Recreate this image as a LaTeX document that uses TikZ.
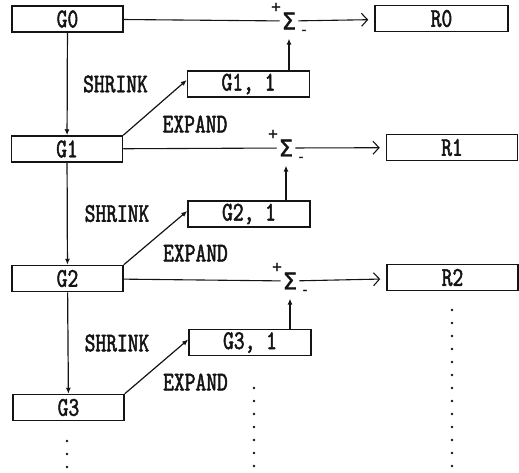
\documentclass[tikz,border=0pt]{standalone}
\usepackage{fontspec}
\newfontfamily\diagfont{lmmono10-regular}[Extension=.otf,FakeStretch=0.76,FakeBold=1.8]
\newfontfamily\sumfont{DejaVu Sans}[FakeBold=1.2]
\usetikzlibrary{arrows.meta,positioning,calc}
\definecolor{ink}{HTML}{141414}
\tikzset{
  >=Latex,
  every node/.style={font=\diagfont\fontsize{27}{27}\selectfont,text=ink},
  gbox/.style={draw=ink,line width=1.5pt,minimum width=111pt,minimum height=26pt,inner sep=0pt},
  subbox/.style={gbox,minimum width=122pt},
  rbox/.style={gbox,minimum width=131pt},
  sumnode/.style={font=\sumfont\fontsize{23}{23}\selectfont,inner xsep=2pt,inner ysep=9pt},
  pmsign/.style={font=\sumfont\fontsize{13}{13}\selectfont,inner sep=0pt},
  txtlabel/.style={inner sep=0pt},
  flow/.style={->,line width=1.2pt,draw=ink,>={Latex[length=6pt,width=5pt]}},
  feed/.style={line width=1.1pt,draw=ink},
  outarr/.style={-{Straight Barb[length=6pt,width=13pt]},line width=1.1pt,draw=ink,shorten >=6pt},
  dotcol/.style={fill=ink}
}
\begin{document}
\begin{tikzpicture}[x=1pt,y=-1pt]
  \useasboundingbox (0,0) rectangle (519,472);

  % pyramid levels
  \node[gbox] (g0) at (67.5,19) {G0};
  \node[gbox] (g1) at (67,149) {G1};
  \node[gbox] (g2) at (67.5,278.5) {G2};
  \node[gbox] (g3) at (68.5,407.5) {G3};

  % expanded levels
  \node[subbox] (g11) at (248.5,84) {G1, 1};
  \node[subbox] (g21) at (249,214) {G2, 1};
  \node[subbox] (g31) at (250,342.5) {G3, 1};

  % differences
  \node[sumnode] (s0) at (289,21) {Σ};
  \node[sumnode] (s1) at (286,148) {Σ};
  \node[sumnode] (s2) at (290,281) {Σ};
  \node[pmsign] (s0p) at ([shift={(-13,-14)}]s0.center) {+};
  \node[pmsign] (s0m) at ([shift={(15,11)}]s0.center) {-};
  \node[pmsign] (s1p) at ([shift={(-13,-14)}]s1.center) {+};
  \node[pmsign] (s1m) at ([shift={(15,11)}]s1.center) {-};
  \node[pmsign] (s2p) at ([shift={(-13,-14)}]s2.center) {+};
  \node[pmsign] (s2m) at ([shift={(15,11)}]s2.center) {-};

  % residuals
  \node[rbox,minimum width=133pt] (r0) at (441.5,18.5) {R0};
  \node[rbox] (r1) at (452,147.5) {R1};
  \node[rbox] (r2) at (452.5,277.5) {R2};

  % step labels
  \node[txtlabel] (sh1) at (115.5,84) {SHRINK};
  \node[txtlabel] (sh2) at (117,213.5) {SHRINK};
  \node[txtlabel] (sh3) at (117,343) {SHRINK};
  \node[txtlabel] (ex1) at (195,124) {EXPAND};
  \node[txtlabel] (ex2) at (195.5,253) {EXPAND};
  \node[txtlabel] (ex3) at (195.5,382) {EXPAND};

  \draw[flow] (g0)--(g1);
  \draw[flow] (g1)--(g2);
  \draw[flow] (g2)--(g3);
  \draw[flow] (g1.north east)--([yshift=4pt]g11.west);
  \draw[flow] (g2.north east)--([yshift=3pt]g21.west);
  \draw[flow] (g3.north east)--([yshift=3pt]g31.west);
  \draw[feed] (g0)--(s0);
  \draw[feed] (g1)--(s1);
  \draw[feed] (g2)--(s2);
  \draw[flow] (s0 |- g11.north)--(s0.south);
  \draw[flow] (s1 |- g21.north)--(s1.south);
  \draw[flow] (s2 |- g31.north)--(s2.south);
  \draw[outarr] (s0)--(r0);
  \draw[outarr] (s1)--(r1);
  \draw[outarr] (s2)--(r2);

  % continuation dots
  \foreach \y in {441,454,467} \fill[dotcol] (67,\y) circle (1.3pt);
  \foreach \y in {388,401,...,467} \fill[dotcol] (254,\y) circle (1.3pt);
  \foreach \y in {310,323,...,467} \fill[dotcol] (452,\y) circle (1.3pt);
\end{tikzpicture}
\end{document}
